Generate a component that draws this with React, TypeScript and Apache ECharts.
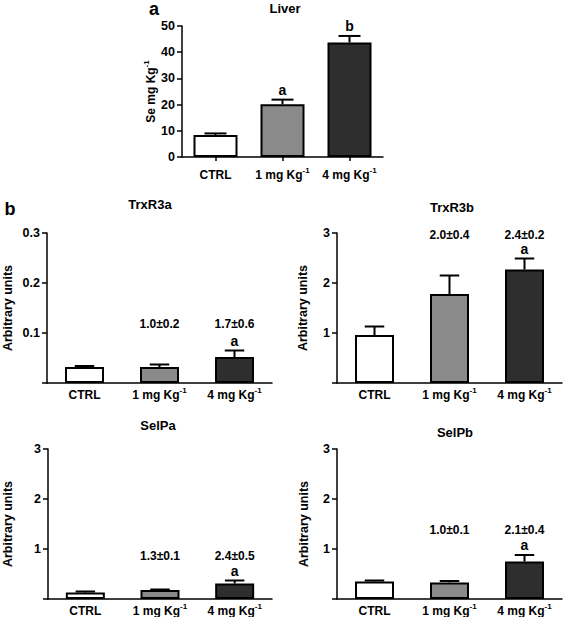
import React, { useEffect, useRef } from 'react';
import * as echarts from 'echarts';

const categories = ['CTRL', '1 mg Kg-1', '4 mg Kg-1'];
const barColors = ['#ffffff', '#8a8a8a', '#2e2e2e'];

const liverMean = [8.4, 20.1, 43.7];
const liverErr = [0.6, 1.8, 2.5];
const liverLetters = ['', 'a', 'b'];

const trxR3aMean = [0.032, 0.032, 0.052];
const trxR3aErr = [0.002, 0.005, 0.013];
const trxR3aLetters = ['', '', 'a'];
const trxR3aFold = ['', '1.0±0.2', '1.7±0.6'];

const trxR3bMean = [0.96, 1.78, 2.27];
const trxR3bErr = [0.17, 0.37, 0.22];
const trxR3bLetters = ['', '', 'a'];
const trxR3bFold = ['', '2.0±0.4', '2.4±0.2'];

const selPaMean = [0.13, 0.18, 0.31];
const selPaErr = [0.02, 0.01, 0.06];
const selPaLetters = ['', '', 'a'];
const selPaFold = ['', '1.3±0.1', '2.4±0.5'];

const selPbMean = [0.35, 0.33, 0.75];
const selPbErr = [0.02, 0.03, 0.13];
const selPbLetters = ['', '', 'a'];
const selPbFold = ['', '1.0±0.1', '2.1±0.4'];

const FONT = '"Liberation Sans", Arial, Helvetica, sans-serif';

type Panel = {
  title: string;
  titleX: number;
  titleY: number;
  mean: number[];
  err: number[];
  letters: string[];
  fold: string[] | null;
  foldLevel: number;
  grid: { left: number; top: number; width: number; height: number };
  max: number;
  interval: number;
  decimals: number;
  showZero: boolean;
  xTicks: boolean;
  barWidth: number;
  yName: string;
  nameGap: number;
  labelMargin: number;
};

const panels: Panel[] = [
  {
    title: 'Liver', titleX: 285, titleY: 8,
    mean: liverMean, err: liverErr, letters: liverLetters, fold: null, foldLevel: 0,
    grid: { left: 182, top: 26, width: 201, height: 131 },
    max: 50, interval: 10, decimals: 0, showZero: true, xTicks: true, barWidth: 44,
    yName: '{m|Se mg Kg}{s|-1}', nameGap: 17, labelMargin: 9,
  },
  {
    title: 'TrxR3a', titleX: 150, titleY: 204,
    mean: trxR3aMean, err: trxR3aErr, letters: trxR3aLetters, fold: trxR3aFold, foldLevel: 0.118,
    grid: { left: 42, top: 233, width: 230, height: 150 },
    max: 0.3, interval: 0.1, decimals: 1, showZero: false, xTicks: false, barWidth: 39,
    yName: '{n|Arbitrary units}', nameGap: 33, labelMargin: 3,
  },
  {
    title: 'TrxR3b', titleX: 452, titleY: 207,
    mean: trxR3bMean, err: trxR3bErr, letters: trxR3bLetters, fold: trxR3bFold, foldLevel: 2.97,
    grid: { left: 337, top: 233, width: 225, height: 150 },
    max: 3, interval: 1, decimals: 0, showZero: false, xTicks: false, barWidth: 39,
    yName: '{n|Arbitrary units}', nameGap: 28, labelMargin: 3,
  },
  {
    title: 'SelPa', titleX: 158, titleY: 425,
    mean: selPaMean, err: selPaErr, letters: selPaLetters, fold: selPaFold, foldLevel: 0.86,
    grid: { left: 43, top: 449, width: 229, height: 150 },
    max: 3, interval: 1, decimals: 0, showZero: false, xTicks: false, barWidth: 39,
    yName: '{n|Arbitrary units}', nameGap: 34, labelMargin: 3,
  },
  {
    title: 'SelPb', titleX: 455, titleY: 432,
    mean: selPbMean, err: selPbErr, letters: selPbLetters, fold: selPbFold, foldLevel: 1.38,
    grid: { left: 337, top: 449, width: 225, height: 150 },
    max: 3, interval: 1, decimals: 0, showZero: false, xTicks: false, barWidth: 39,
    yName: '{n|Arbitrary units}', nameGap: 27, labelMargin: 3,
  },
];

const richText = {
  m: { fontSize: 12, fontWeight: 'bold', fontFamily: FONT, color: '#000', lineHeight: 18 },
  s: { fontSize: 8, fontWeight: 'bold', fontFamily: FONT, color: '#000', verticalAlign: 'top' },
  n: { fontSize: 12.5, fontWeight: 'bold', fontFamily: FONT, color: '#000' },
};

function catLabel(v: string): string {
  const idx = v.indexOf('Kg-1');
  if (idx < 0) return '{m|' + v + '}';
  return '{m|' + v.slice(0, idx + 2) + '}{s|-1}';
}

function textStyle(text: string, font: string) {
  return {
    text,
    fill: '#000',
    font,
    align: 'center',
    verticalAlign: 'middle',
    textAlign: 'center',
    textVerticalAlign: 'middle',
  };
}

function buildOption() {
  const grid: any[] = [];
  const xAxis: any[] = [];
  const yAxis: any[] = [];
  const series: any[] = [];
  const graphic: any[] = [];

  panels.forEach((p, gi) => {
    grid.push({ ...p.grid, containLabel: false });
    xAxis.push({
      type: 'category',
      gridIndex: gi,
      data: categories,
      axisLine: { lineStyle: { color: '#000', width: 1.5 } },
      axisTick: { show: p.xTicks, alignWithLabel: true, length: 4, lineStyle: { color: '#000', width: 1.5 } },
      axisLabel: { interval: 0, margin: p.labelMargin, formatter: catLabel, rich: richText },
      splitLine: { show: false },
    });
    yAxis.push({
      type: 'value',
      gridIndex: gi,
      min: 0,
      max: p.max,
      interval: p.interval,
      name: p.yName,
      nameLocation: 'middle',
      nameRotate: 90,
      nameGap: p.nameGap,
      nameTextStyle: { rich: richText },
      axisLine: { show: true, lineStyle: { color: '#000', width: 1.5 } },
      axisTick: { show: true, inside: false, length: 5, lineStyle: { color: '#000', width: 1.5 } },
      axisLabel: {
        margin: 7,
        color: '#000',
        fontSize: 12.5,
        fontWeight: 'bold',
        fontFamily: FONT,
        formatter: (v: number) => (v === 0 && !p.showZero ? '' : v.toFixed(p.decimals)),
      },
      splitLine: { show: false },
    });
    series.push({
      type: 'bar',
      xAxisIndex: gi,
      yAxisIndex: gi,
      barWidth: p.barWidth,
      data: p.mean.map((v, i) => ({ value: v, itemStyle: { color: barColors[i] } })),
      itemStyle: { borderColor: '#000', borderWidth: 2 },
      z: 2,
    });
    const letters = p.letters;
    const fold = p.fold;
    series.push({
      type: 'custom',
      xAxisIndex: gi,
      yAxisIndex: gi,
      clip: false,
      z: 5,
      data: p.mean.map((v, i) => [i, v, p.err[i]]),
      encode: { x: 0, y: 1 },
      renderItem: (params: any, api: any) => {
        const i = params.dataIndex;
        const x = api.value(0);
        const m = api.value(1);
        const e = api.value(2);
        const p0 = api.coord([x, m]);
        const p1 = api.coord([x, m + e]);
        const half = p.barWidth / 4;
        const children: any[] = [
          { type: 'line', shape: { x1: p0[0], y1: p0[1], x2: p1[0], y2: p1[1] }, style: { stroke: '#000', lineWidth: 2 } },
          { type: 'line', shape: { x1: p1[0] - half, y1: p1[1], x2: p1[0] + half, y2: p1[1] }, style: { stroke: '#000', lineWidth: 2 } },
        ];
        if (letters[i]) {
          children.push({
            type: 'text',
            x: p1[0],
            y: p1[1] - 10,
            style: textStyle(letters[i], 'bold 14px ' + FONT),
          });
        }
        if (fold && fold[i]) {
          const fp = api.coord([x, p.foldLevel]);
          children.push({
            type: 'text',
            x: fp[0],
            y: fp[1],
            style: textStyle(fold[i], 'bold 12px ' + FONT),
          });
        }
        return { type: 'group', children };
      },
    });
    graphic.push({
      type: 'text',
      x: p.titleX,
      y: p.titleY,
      style: textStyle(p.title, 'bold 13px ' + FONT),
    });
  });

  graphic.push({ type: 'text', x: 154, y: 9, style: textStyle('a', 'bold 18px ' + FONT) });
  graphic.push({ type: 'text', x: 10, y: 209, style: textStyle('b', 'bold 18px ' + FONT) });

  return {
    animation: false,
    backgroundColor: '#ffffff',
    textStyle: { fontFamily: FONT },
    grid,
    xAxis,
    yAxis,
    series,
    graphic,
  };
}

export default function App() {
  const ref = useRef<HTMLDivElement>(null);
  useEffect(() => {
    if (!ref.current) return;
    const chart = echarts.init(ref.current, undefined, { renderer: 'svg' });
    chart.setOption(buildOption() as any);
    return () => chart.dispose();
  }, []);
  return <div ref={ref} style={{ position: 'absolute', left: 0, top: 0, width: 567, height: 617 }} />;
}
